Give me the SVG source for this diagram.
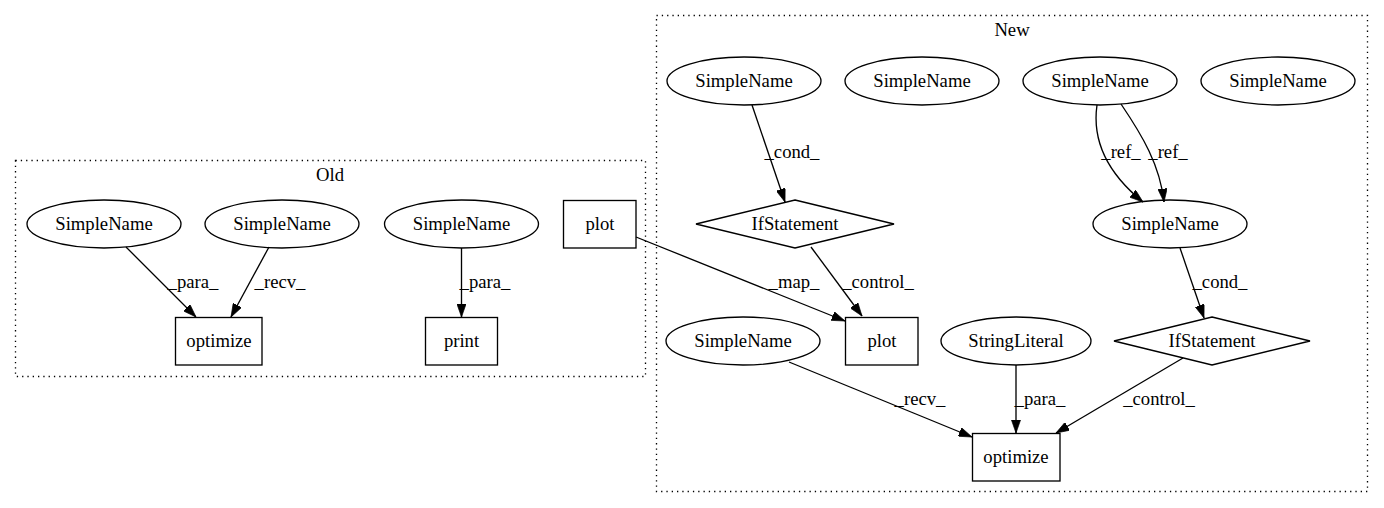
<svg xmlns="http://www.w3.org/2000/svg" width="1384" height="508" viewBox="0 0 1384 508">
<style>
text{font-family:"Liberation Serif","Times New Roman",serif;font-size:18.67px;fill:#000;text-anchor:middle}
.n{fill:none;stroke:#000;stroke-width:1.33}
.c{fill:none;stroke:#000;stroke-width:1.33;stroke-dasharray:1.3,4}
.e{fill:none;stroke:#000;stroke-width:1.33;marker-end:url(#a)}
</style>
<defs>
<marker id="a" viewBox="0 0 10 7" refX="10" refY="3.5" markerWidth="13.3" markerHeight="9.3" markerUnits="userSpaceOnUse" orient="auto">
<path d="M0,0 L10,3.5 L0,7 Z" fill="#000" stroke="#000" stroke-width="0.5"/>
</marker>
</defs>
<rect width="1384" height="508" fill="#fff"/>
<g id="cluster_old">
<rect class="c" x="15.5" y="160.5" width="630" height="216"/>
<text x="330" y="181">Old</text>
</g>
<g id="cluster_new">
<rect class="c" x="656.5" y="15.5" width="711" height="476"/>
<text x="1012" y="36">New</text>
</g>
<g id="old_sn1"><ellipse class="n" cx="104" cy="224" rx="77" ry="24"/><text x="104" y="230">SimpleName</text></g>
<g id="old_sn2"><ellipse class="n" cx="282" cy="224" rx="77" ry="24"/><text x="282" y="230">SimpleName</text></g>
<g id="old_sn3"><ellipse class="n" cx="461.5" cy="224" rx="77" ry="24"/><text x="461.5" y="230">SimpleName</text></g>
<g id="old_plot"><rect class="n" x="563.5" y="200.5" width="72.5" height="47.5"/><text x="600" y="230">plot</text></g>
<g id="old_optimize"><rect class="n" x="175.5" y="317.5" width="86.5" height="47.5"/><text x="219" y="347">optimize</text></g>
<g id="old_print"><rect class="n" x="425.5" y="317.5" width="72" height="47.5"/><text x="461.5" y="347">print</text></g>
<g id="new_sn_a"><ellipse class="n" cx="744" cy="81" rx="77" ry="24"/><text x="744" y="87">SimpleName</text></g>
<g id="new_sn_b"><ellipse class="n" cx="922" cy="81" rx="77" ry="24"/><text x="922" y="87">SimpleName</text></g>
<g id="new_sn_c"><ellipse class="n" cx="1100" cy="81" rx="77" ry="24"/><text x="1100" y="87">SimpleName</text></g>
<g id="new_sn_d"><ellipse class="n" cx="1278" cy="81" rx="77" ry="24"/><text x="1278" y="87">SimpleName</text></g>
<g id="new_if1"><polygon class="n" points="795,200 894,224 795,248 696,224"/><text x="795" y="230">IfStatement</text></g>
<g id="new_sn_e"><ellipse class="n" cx="1170" cy="224" rx="77" ry="24"/><text x="1170" y="230">SimpleName</text></g>
<g id="new_plot"><rect class="n" x="845.5" y="317.5" width="72.5" height="47.5"/><text x="882" y="347">plot</text></g>
<g id="new_sn_f"><ellipse class="n" cx="743" cy="341" rx="77" ry="24"/><text x="743" y="347">SimpleName</text></g>
<g id="new_stringliteral"><ellipse class="n" cx="1016" cy="341" rx="75" ry="24"/><text x="1016" y="347">StringLiteral</text></g>
<g id="new_if2"><polygon class="n" points="1212,317 1310,341 1212,365 1114,341"/><text x="1212" y="347">IfStatement</text></g>
<g id="new_optimize"><rect class="n" x="972.5" y="433.5" width="87.5" height="47.5"/><text x="1016" y="463">optimize</text></g>
<g id="edges">
<path class="e" d="M126,247 L196,317"/>
<text x="193" y="288">_para_</text>
<path class="e" d="M269,247 L231,317"/>
<text x="280" y="288">_recv_</text>
<path class="e" d="M461.5,248 L461.5,317"/>
<text x="485" y="288">_para_</text>
<path class="e" d="M636,237 L845,321"/>
<text x="794" y="288">_map_</text>
<path class="e" d="M752,105 L785,202"/>
<text x="792" y="158">_cond_</text>
<path class="e" d="M1097,105 C1092,140 1106,172 1143,202"/>
<text x="1121" y="158">_ref_</text>
<path class="e" d="M1121,104 C1142,135 1160,165 1164,202"/>
<text x="1168" y="158">_ref_</text>
<path class="e" d="M811,247 L862,316"/>
<text x="878" y="288">_control_</text>
<path class="e" d="M1180,248 L1204,318"/>
<text x="1220" y="288">_cond_</text>
<path class="e" d="M789,362 L972,437"/>
<text x="920" y="405">_recv_</text>
<path class="e" d="M1016,365 L1016,433"/>
<text x="1040" y="405">_para_</text>
<path class="e" d="M1183,358 L1056,433"/>
<text x="1159" y="405">_control_</text>
</g>
</svg>
